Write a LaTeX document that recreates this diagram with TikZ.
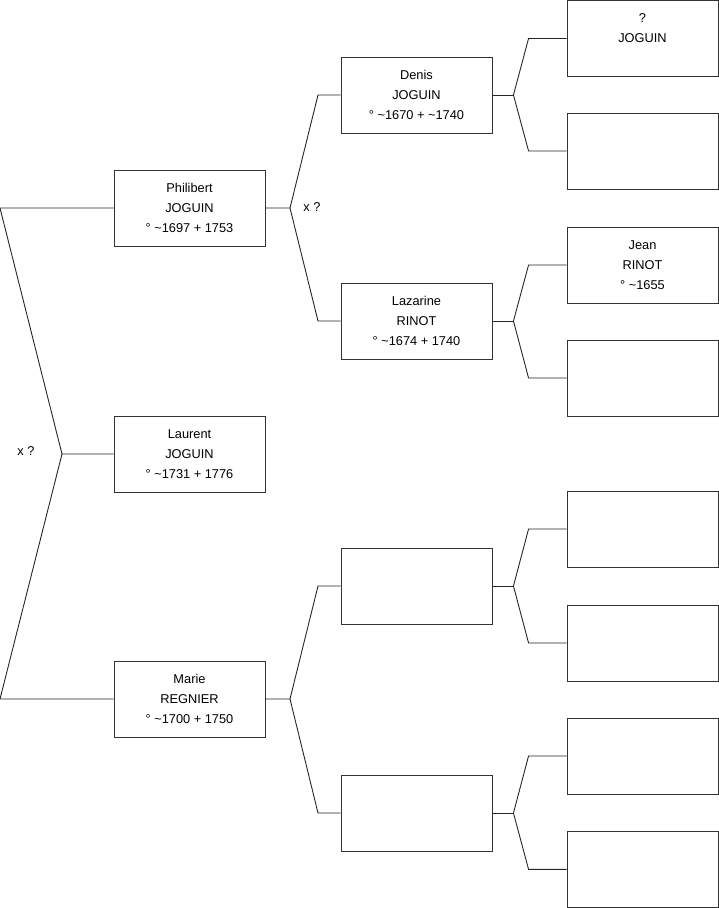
\documentclass[tikz,border=0pt]{standalone}
\usepackage{fontspec}
\setmainfont{Liberation Sans}
\usepackage{tikz}

\tikzset{
  person/.style={draw=black!80, line width=0.9pt, fill=white, minimum width=151pt, minimum height=76pt, inner sep=0pt, align=center, font=\fontsize{12.8}{20}\selectfont},
  link/.style={draw=black!85, line width=0.9pt},
  mark label/.style={font=\fontsize{12.8}{15}\selectfont}
}

\begin{document}
\begin{tikzpicture}[x=1pt,y=-1pt]
	\useasboundingbox (0,0) rectangle (719,908);

	% generation 1
	\node[person] (phil) at (189.5,208) {Philibert\\JOGUIN\\° \textasciitilde1697 + 1753};
	\node[person] (laurent) at (189.5,454) {Laurent\\JOGUIN\\° \textasciitilde1731 + 1776};
	\node[person] (marie) at (189.5,699) {Marie\\REGNIER\\° \textasciitilde1700 + 1750};

	% generation 2
	\node[person] (denis) at (416.5,95) {Denis\\JOGUIN\\° \textasciitilde1670 + \textasciitilde1740};
	\node[person] (lazarine) at (416.5,321) {Lazarine\\RINOT\\° \textasciitilde1674 + 1740};
	\node[person] (mfa) at (416.5,586) {};
	\node[person] (mmo) at (416.5,813) {};

	% generation 3
	\node[person] (dfa) at (642.5,38.5) {?\\JOGUIN\\\mbox{}};
	\node[person] (dmo) at (642.5,151) {};
	\node[person] (lfa) at (642.5,265) {Jean\\RINOT\\° \textasciitilde1655};
	\node[person] (lmo) at (642.5,378) {};
	\node[person] (mffa) at (642.5,529) {};
	\node[person] (mfmo) at (642.5,643) {};
	\node[person] (mmfa) at (642.5,756) {};
	\node[person] (mmmo) at (642.5,869.3) {};

	% forks
	\coordinate (k0) at (62,454);
	\coordinate (k0a) at (0,208);
	\coordinate (k0b) at (0,699);
	\draw[link] (laurent.west) -- (k0) -- (k0a) -- (phil.west);
	\draw[link] (k0) -- (k0b) -- (marie.west);
	\node[mark label] (x0) at (26,451) {x ?};

	\coordinate (k1) at (290,208);
	\draw[link] (phil.east) -- (k1) -- (318,95) -- (denis.west);
	\draw[link] (k1) -- (318,321) -- (lazarine.west);
	\node[mark label] (x1) at (312,207) {x ?};

	\coordinate (k2) at (290,699);
	\draw[link] (marie.east) -- (k2) -- (318,586) -- (mfa.west);
	\draw[link] (k2) -- (318,813) -- (mmo.west);

	\foreach \kid/\up/\down in {denis/dfa/dmo, lazarine/lfa/lmo, mfa/mffa/mfmo, mmo/mmfa/mmmo}{
		\draw[link] (\kid.east) -- ++(21,0) coordinate (k);
		\draw[link] (k) -- ([xshift=-38pt]\up.west) -- (\up.west);
		\draw[link] (k) -- ([xshift=-38pt]\down.west) -- (\down.west);
	}
\end{tikzpicture}
\end{document}
